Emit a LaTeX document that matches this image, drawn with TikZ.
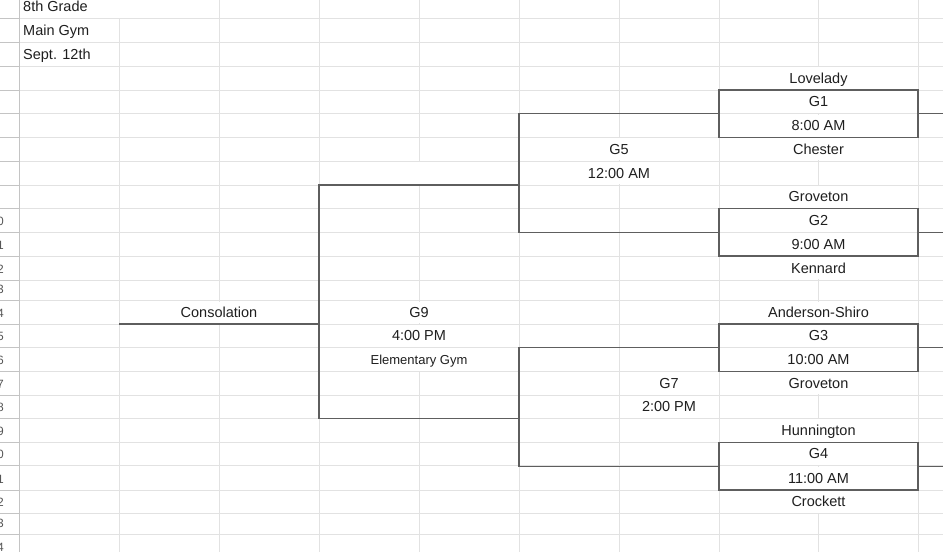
\documentclass[tikz,border=0pt]{standalone}
\usepackage{fontspec}
\setmainfont{Liberation Sans}
\definecolor{gridc}{HTML}{E2E2E2}
\definecolor{hdrc}{HTML}{C4C4C4}
\definecolor{linec}{HTML}{5E5E5E}
\definecolor{txtc}{HTML}{1F1F1F}
\definecolor{numc}{HTML}{555555}
\begin{document}
\begin{tikzpicture}[x=1pt,y=-1pt,
  cell/.style={font=\fontsize{14.5}{17}\selectfont, text=txtc, inner sep=0pt, anchor=base},
  lcell/.style={cell, anchor=base west},
  smallcell/.style={cell, font=\fontsize{13}{15}\selectfont},
  rownum/.style={font=\fontsize{12}{14}\selectfont, text=numc, inner sep=0pt, anchor=base east},
  gridline/.style={draw=gridc, line width=0.9pt},
  hdrline/.style={draw=hdrc, line width=0.9pt},
  bracket/.style={draw=linec, line width=1.3pt},
  gbox/.style={draw=linec, line width=1.3pt, inner sep=0pt, minimum width=199pt}
]
\useasboundingbox (0,0) rectangle (943,552);
\begin{scope}
\clip (0,0) rectangle (943,552);
% horizontal grid lines
\foreach \y in {18.3,42.3,66,90,113.7,137.3,161,185,208.3,232.3,256,280,300.7,324,347.3,371.3,395,418.3,442.3,465.7,490,513.3,534.3}{
  \draw[gridline] (19.5,\y) -- (943,\y);
  \draw[hdrline] (0,\y) -- (19.5,\y);
}
% vertical grid lines
\foreach \x in {119,219,319,419,519,619,719,818,918}{
  \draw[gridline] (\x,0) -- (\x,552);
}
\draw[hdrline] (19.5,0) -- (19.5,552);
% merged cells
\foreach \xa/\xb/\ya/\yb in {20/219/-5.5/18.3, 719/918/66/90, 719/918/90/113.7, 719/918/113.7/137.3,
  719/918/137.3/161, 519/719/137.3/161, 319/519/161/185, 519/719/161/185, 719/918/185/208.3,
  719/918/208.3/232.3, 719/918/232.3/256, 719/918/256/280, 119/319/300.7/324, 319/519/300.7/324,
  719/918/300.7/324, 319/519/324/347.3, 719/918/324/347.3, 319/519/347.3/371.3, 719/918/347.3/371.3,
  719/918/371.3/395, 719/918/418.3/442.3, 719/918/442.3/465.7, 719/918/465.7/490, 719/918/490/513.3}{
  \fill[white] (\xa+0.8,\ya+0.8) rectangle (\xb-0.8,\yb-0.8);
}
% row numbers (cut off by the left edge)
\foreach \n/\b in {10/225.3,11/249,12/273,13/293.7,14/317,15/340.3,16/364.3,17/388,18/411.3,19/435.3,20/458.7,21/483,22/506.3,23/527.3,24/551}{
  \node[rownum] (rn\n) at (4,\b) {\n};
}
% boxes
\node[gbox, minimum height=47.3pt] (g1box) at (818.5,113.65) {};
\node[gbox, minimum height=47.7pt] (g2box) at (818.5,232.15) {};
\node[gbox, minimum height=47.3pt] (g3box) at (818.5,347.65) {};
\node[gbox, minimum height=47.7pt] (g4box) at (818.5,466.15) {};
% junctions
\coordinate (j5) at (519,185);
\coordinate (j7) at (519,418.3);
\coordinate (j9) at (319,324);
\coordinate (cons) at (119,324);
\coordinate (edge) at (944,0);
% brackets
\draw[bracket] (g1box.west) -| (j5) |- (g2box.west);
\draw[bracket] (g3box.west) -| (j7) |- (g4box.west);
\draw[bracket] (j5) -| (j9);
\draw[bracket] (j7) -| (j9);
\draw[bracket] (j9) -- (cons);
\draw[bracket] (g1box.east) -- (g1box.east -| edge);
\draw[bracket] (g2box.east) -- (g2box.east -| edge);
\draw[bracket] (g3box.east) -- (g3box.east -| edge);
\draw[bracket] (g4box.east) -- (g4box.east -| edge);
\end{scope}
% texts
\node[lcell] (grade) at (23,11.5) {8th Grade};
\node[lcell] (gym) at (23,35.3) {Main Gym};
\node[lcell] (date) at (23,59) {Sept. 12th};
\node[cell] (t1a) at (818.5,83) {Lovelady};
\node[cell] (g1) at (818.5,106.7) {G1};
\node[cell] (g1t) at (818.5,130.3) {8:00 AM};
\node[cell] (t1b) at (818.5,154) {Chester};
\node[cell] (g5) at (619,154) {G5};
\node[cell] (g5t) at (619,178) {12:00 AM};
\node[cell] (t2a) at (818.5,201.3) {Groveton};
\node[cell] (g2) at (818.5,225.3) {G2};
\node[cell] (g2t) at (818.5,249) {9:00 AM};
\node[cell] (t2b) at (818.5,273) {Kennard};
\node[cell] (consl) at (219,317) {Consolation};
\node[cell] (g9) at (419,317) {G9};
\node[cell] (t3a) at (818.5,317) {Anderson-Shiro};
\node[cell] (g9t) at (419,340.3) {4:00 PM};
\node[cell] (g3) at (818.5,340.3) {G3};
\node[smallcell] (g9p) at (419,364.3) {Elementary Gym};
\node[cell] (g3t) at (818.5,364.3) {10:00 AM};
\node[cell] (g7) at (669,388) {G7};
\node[cell] (t3b) at (818.5,388) {Groveton};
\node[cell] (g7t) at (669,411.3) {2:00 PM};
\node[cell] (t4a) at (818.5,435.3) {Hunnington};
\node[cell] (g4) at (818.5,458.7) {G4};
\node[cell] (g4t) at (818.5,483) {11:00 AM};
\node[cell] (t4b) at (818.5,506.3) {Crockett};
\end{tikzpicture}
\end{document}
